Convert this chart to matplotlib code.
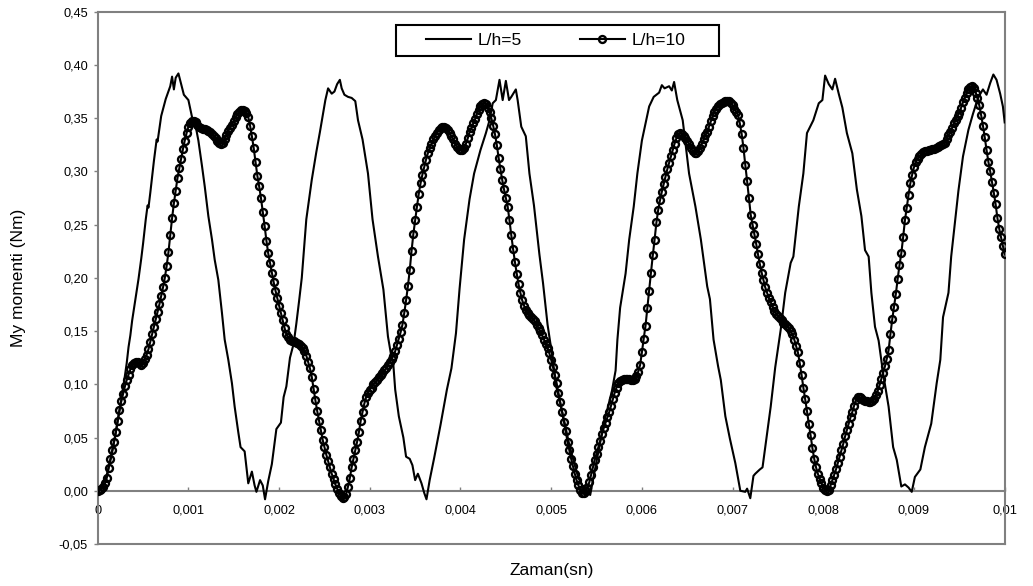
import numpy as np
import matplotlib
matplotlib.use("Agg")
import matplotlib.pyplot as plt
from matplotlib.patches import Rectangle

plt.rcParams['font.family'] = ['Liberation Sans', 'DejaVu Sans']

# ---------------- data ----------------
# L/h=5 : time (ms) and moment (x1e-3 Nm)
t5_ms = [0, 0.05, 0.10, 0.15, 0.20, 0.25, 0.30, 0.32, 0.34, 0.36,
         0.38, 0.41, 0.45, 0.48, 0.50, 0.53, 0.55, 0.56, 0.58, 0.62,
         0.65, 0.66, 0.70, 0.75, 0.80, 0.82, 0.84, 0.86, 0.89, 0.92,
         0.95, 0.97, 1.00, 1.04, 1.07, 1.11, 1.15, 1.18, 1.22, 1.26,
         1.29, 1.33, 1.37, 1.40, 1.44, 1.48, 1.51, 1.55, 1.575, 1.62,
         1.66, 1.70, 1.73, 1.75, 1.79, 1.82, 1.845, 1.88, 1.92, 1.95,
         1.97, 2.02, 2.05, 2.08, 2.12, 2.16, 2.19, 2.22, 2.25, 2.27,
         2.30, 2.36, 2.41, 2.45, 2.48, 2.51, 2.54, 2.58, 2.61, 2.64,
         2.67, 2.69, 2.72, 2.76, 2.80, 2.84, 2.87, 2.92, 2.98, 3.03,
         3.09, 3.15, 3.20, 3.23, 3.26, 3.28, 3.32, 3.37, 3.40, 3.44,
         3.47, 3.50, 3.53, 3.57, 3.60, 3.625, 3.66, 3.71, 3.78, 3.85,
         3.90, 3.95, 3.99, 4.04, 4.10, 4.15, 4.22, 4.28, 4.32, 4.355,
         4.39, 4.43, 4.465, 4.50, 4.535, 4.56, 4.61, 4.63, 4.67, 4.72,
         4.76, 4.81, 4.87, 4.91, 4.96, 5.02, 5.05, 5.10, 5.15, 5.20,
         5.25, 5.30, 5.35, 5.39, 5.43, 5.46, 5.51, 5.58, 5.67, 5.71,
         5.73, 5.76, 5.82, 5.86, 5.91, 5.95, 6.00, 6.04, 6.08, 6.13,
         6.19, 6.22, 6.25, 6.30, 6.33, 6.355, 6.39, 6.45, 6.52, 6.59,
         6.65, 6.70, 6.72, 6.75, 6.79, 6.84, 6.87, 6.92, 6.97, 7.03,
         7.085, 7.14, 7.16, 7.195, 7.23, 7.25, 7.30, 7.33, 7.36, 7.42,
         7.47, 7.53, 7.58, 7.64, 7.67, 7.73, 7.78, 7.82, 7.89, 7.95,
         7.99, 8.02, 8.06, 8.10, 8.13, 8.17, 8.21, 8.26, 8.32, 8.37,
         8.42, 8.46, 8.50, 8.53, 8.57, 8.61, 8.66, 8.72, 8.77, 8.81,
         8.86, 8.90, 8.94, 8.975, 9.01, 9.07, 9.12, 9.19, 9.25, 9.29,
         9.32, 9.38, 9.41, 9.45, 9.49, 9.54, 9.60, 9.65, 9.71, 9.76,
         9.80, 9.84, 9.875, 9.91, 9.95, 9.98, 10.0]
m5_milli = [0, 5, 15, 32, 55, 80, 108, 120, 135, 146,
            160, 177, 199, 218, 232, 255, 268, 266, 280, 310,
            330, 328, 352, 368, 380, 389, 377, 388, 392, 382,
            372, 370, 367, 351, 347, 329, 305, 286, 258, 236,
            217, 198, 167, 142, 123, 101, 79, 55, 41, 37,
            7, 18, 5, -1, 10, 5, -8, 9, 25, 45,
            58, 64, 88, 98, 125, 138, 157, 178, 200, 222,
            255, 292, 318, 337, 352, 367, 378, 373, 375, 382,
            386, 378, 372, 370, 369, 366, 348, 330, 298, 255,
            220, 189, 145, 130, 118, 95, 70, 50, 32, 30,
            24, 10, 16, 7, -2, -8, 10, 31, 62, 95,
            115, 148, 190, 236, 274, 298, 320, 336, 348, 364,
            367, 386, 367, 385, 367, 370, 377, 367, 342, 333,
            298, 268, 222, 195, 156, 122, 100, 82, 63, 43,
            27, 12, 4, 6, -4, 10, 32, 63, 94, 113,
            142, 172, 204, 236, 267, 298, 329, 345, 361, 370,
            374, 381, 378, 380, 376, 384, 367, 348, 298, 267,
            236, 205, 192, 180, 142, 117, 104, 70, 49, 26,
            0, -1, 2, -7, 14, 16, 20, 22, 41, 79,
            116, 151, 186, 214, 220, 267, 298, 336, 348, 364,
            367, 390, 382, 377, 387, 373, 360, 336, 317, 283,
            258, 226, 220, 186, 154, 141, 110, 79, 41, 29,
            4, 6, 3, -1, 13, 20, 41, 63, 101, 123,
            163, 186, 220, 251, 282, 314, 339, 354, 370, 377,
            372, 383, 391, 386, 373, 361, 346]

# L/h=10 : sampled uniformly from 0 to 10 ms (moment x1e-3 Nm)
m10_milli = [
    0, 1, 2, 4, 7, 12, 21, 30, 38, 46,
    55, 66, 76, 84, 91, 98, 104, 109, 114, 118,
    120, 121, 121, 120, 118, 120, 124, 128, 133, 140,
    147, 154, 161, 168, 175, 183, 191, 200, 211, 224,
    240, 256, 270, 282, 294, 303, 312, 321, 329, 336,
    342, 345, 347, 347, 346, 344, 342, 341, 340, 340,
    339, 338, 337, 335, 333, 331, 329, 327, 326, 327,
    330, 334, 338, 341, 344, 347, 351, 354, 356, 358,
    358, 357, 355, 351, 343, 333, 322, 309, 296, 286,
    275, 262, 249, 235, 223, 214, 205, 196, 188, 181,
    174, 167, 160, 153, 147, 144, 142, 141, 141, 140,
    139, 138, 136, 134, 131, 127, 121, 115, 107, 96,
    85, 75, 66, 57, 48, 41, 34, 28, 22, 16,
    11, 6, 2, -2, -5, -7, -6, -3, 4, 12,
    22, 30, 38, 46, 55, 66, 74, 82, 88, 92,
    95, 97, 100, 102, 104, 107, 109, 111, 113, 115,
    118, 121, 124, 127, 131, 137, 143, 149, 156, 167,
    179, 192, 207, 225, 241, 254, 267, 279, 289, 297,
    304, 311, 317, 322, 326, 330, 333, 336, 339, 341,
    342, 342, 341, 339, 336, 333, 330, 326, 323, 321,
    320, 320, 322, 326, 331, 337, 341, 345, 349, 354,
    358, 361, 363, 364, 363, 360, 356, 350, 343, 335,
    325, 313, 302, 292, 283, 275, 267, 254, 240, 227,
    215, 204, 194, 186, 179, 174, 170, 167, 165, 163,
    161, 159, 156, 153, 150, 146, 142, 138, 134, 129,
    123, 116, 109, 101, 92, 83, 74, 65, 56, 46,
    38, 30, 23, 16, 10, 5, 1, -2, -2, 0,
    3, 8, 15, 22, 29, 35, 41, 47, 53, 59,
    64, 69, 74, 80, 86, 92, 97, 101, 103, 104,
    105, 105, 105, 105, 104, 104, 105, 108, 112, 118,
    130, 143, 155, 172, 188, 205, 221, 236, 252, 264,
    273, 281, 288, 295, 302, 308, 314, 320, 326, 331,
    335, 336, 335, 333, 331, 329, 326, 322, 319, 317,
    317, 319, 322, 326, 330, 334, 337, 342, 347, 352,
    356, 359, 361, 363, 364, 365, 366, 366, 366, 364,
    362, 359, 356, 353, 345, 335, 322, 306, 291, 275,
    259, 250, 241, 232, 222, 213, 205, 198, 191, 186,
    181, 177, 173, 169, 166, 164, 162, 160, 158, 157,
    155, 153, 150, 147, 142, 136, 130, 120, 109, 97,
    86, 75, 63, 52, 40, 30, 22, 16, 11, 7,
    3, 1, 0, 1, 5, 10, 15, 20, 26, 32,
    38, 44, 51, 57, 63, 69, 74, 80, 85, 88,
    88, 87, 85, 84, 84, 83, 83, 84, 86, 90,
    94, 99, 105, 111, 117, 124, 132, 147, 161, 173,
    185, 199, 212, 223, 238, 254, 266, 278, 289, 297,
    304, 309, 312, 314, 316, 318, 319, 319, 320, 320,
    321, 321, 322, 323, 324, 325, 326, 327, 330, 334,
    337, 341, 345, 348, 352, 355, 360, 365, 369, 374,
    377, 379, 380, 378, 374, 369, 362, 353, 343, 332,
    320, 309, 300, 290, 280, 269, 256, 246, 238, 230,
    222]
t10_end = 0.01

series_names = ["L/h=5", "L/h=10"]
xticks = [0, 0.001, 0.002, 0.003, 0.004, 0.005, 0.006, 0.007, 0.008, 0.009, 0.01]
xticklabels = ["0", "0,001", "0,002", "0,003", "0,004", "0,005", "0,006",
               "0,007", "0,008", "0,009", "0,01"]
yticks = [-0.05, 0.0, 0.05, 0.10, 0.15, 0.20, 0.25, 0.30, 0.35, 0.40, 0.45]
yticklabels = ["-0,05", "0,00", "0,05", "0,10", "0,15", "0,20", "0,25",
               "0,30", "0,35", "0,40", "0,45"]
xlabel = "Zaman(sn)"
ylabel = "My momenti (Nm)"

# ---------------- derived arrays ----------------
t5 = np.array(t5_ms) / 1000.0
m5 = np.array(m5_milli) / 1000.0
m10 = np.array(m10_milli) / 1000.0
t10 = np.linspace(0, t10_end, len(m10))

# ---------------- figure ----------------
W, H = 1033, 586
fig = plt.figure(figsize=(W / 100, H / 100), dpi=100)
ax = fig.add_axes([97.7 / W, (H - 544) / H, 907 / W, 532.3 / H])

gray = '#808080'
ax.plot(t5, m5, color='black', lw=1.5, label=series_names[0], zorder=3)
ax.plot(t10, m10, color='black', lw=1.5, marker='o', ms=5.0, mfc='none',
        mec='black', mew=1.7, label=series_names[1], zorder=4)

ax.set_xlim(0, 0.01)
ax.set_ylim(-0.05, 0.45)

for s in ['left', 'right', 'top', 'bottom']:
    ax.spines[s].set_color(gray)
    ax.spines[s].set_linewidth(1.5)
ax.spines['bottom'].set_position(('data', 0))
ax.axhline(-0.05, color=gray, lw=1.5, clip_on=False, zorder=1)

ax.set_xticks(xticks)
ax.set_xticklabels(xticklabels, fontsize=9.2)
ax.set_yticks(yticks)
ax.set_yticklabels(yticklabels, fontsize=9.2)
ax.tick_params(axis='x', direction='in', length=3, width=1, color=gray, pad=10)
ax.tick_params(axis='y', direction='out', length=3, width=1, color=gray, pad=4)

ax.set_xlabel(xlabel, fontsize=12.5)
ax.xaxis.set_label_coords(0.5, -0.036)
ax.set_ylabel(ylabel, fontsize=12.5)
ax.yaxis.set_label_coords(-0.079, 0.5)

# legend: entries without frame, box drawn around them
leg = fig.legend(loc='center left', ncol=2,
                 bbox_to_anchor=(426 / W, (H - 40.4) / H),
                 frameon=False, fontsize=12.5,
                 handlelength=2.6, handletextpad=0.4, borderpad=0,
                 columnspacing=3.3, borderaxespad=0)
fig.add_artist(Rectangle((395.7 / W, (H - 55.7) / H), 323.6 / W, 30.7 / H,
                         transform=fig.transFigure, fill=False,
                         edgecolor='black', linewidth=1.5))

fig.savefig('out.png', dpi=100)
